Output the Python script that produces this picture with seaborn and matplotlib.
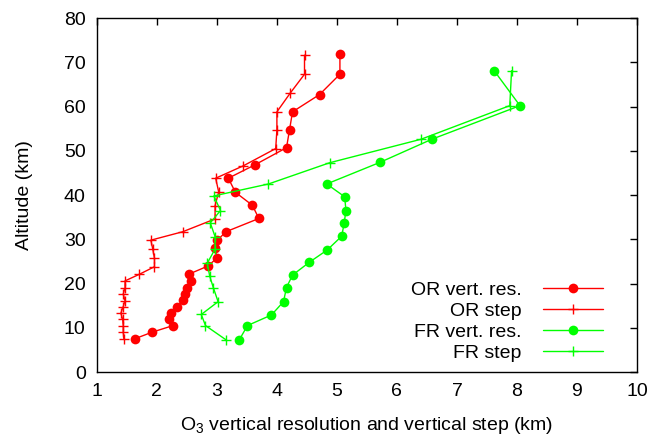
import matplotlib
matplotlib.use('Agg')
import matplotlib.pyplot as plt
import seaborn as sns

# OR vertical resolution (km) vs altitude (km)
or_res_x = [1.63, 1.92, 2.27, 2.21, 2.24, 2.34, 2.43, 2.47, 2.51, 2.57, 2.53, 2.86, 3.00,
            2.97, 3.01, 3.15, 3.70, 3.59, 3.31, 3.19, 3.63, 4.16, 4.21, 4.26, 4.71, 5.05, 5.05]
or_res_y = [7.5, 9.0, 10.5, 12.0, 13.4, 14.8, 16.2, 17.6, 19.0, 20.6, 22.1, 24.0, 25.8,
            28.0, 29.8, 31.7, 34.7, 37.7, 40.6, 43.8, 46.8, 50.7, 54.7, 58.8, 62.7, 67.3, 71.8]

# OR vertical step
or_step_x = [1.45, 1.44, 1.44, 1.43, 1.40, 1.44, 1.47, 1.44, 1.47, 1.47, 1.71, 1.96, 1.96,
             1.93, 1.90, 2.43, 2.97, 2.97, 3.03, 2.98, 3.44, 3.98, 4.00, 4.00, 4.22, 4.46, 4.46]
or_step_y = [7.5, 9.0, 10.5, 11.9, 13.3, 14.8, 16.1, 17.6, 19.1, 20.6, 22.1, 23.8, 25.7,
             27.9, 29.8, 31.7, 34.6, 37.6, 40.7, 43.8, 46.6, 50.5, 54.7, 58.8, 63.0, 67.3, 71.6]

# FR vertical resolution
fr_res_x = [3.37, 3.51, 3.91, 4.11, 4.16, 4.26, 4.54, 4.84, 5.08, 5.12, 5.15, 5.13, 4.83,
            5.72, 6.58, 8.05, 7.62]
fr_res_y = [7.2, 10.5, 12.9, 15.9, 19.1, 21.9, 24.8, 27.6, 30.7, 33.6, 36.5, 39.6, 42.5,
            47.4, 52.6, 60.2, 68.1]

# FR vertical step
fr_step_x = [3.16, 2.81, 2.74, 3.02, 2.94, 2.88, 2.84, 2.97, 2.97, 2.89, 3.06, 2.95, 3.86,
             4.88, 6.40, 7.88, 7.91]
fr_step_y = [7.2, 10.5, 13.0, 15.9, 19.1, 21.7, 24.6, 27.8, 30.6, 33.7, 36.5, 39.8, 42.5,
             47.3, 52.6, 60.2, 68.1]

sns.set_style('white')
plt.rcParams['font.family'] = ['Liberation Sans', 'DejaVu Sans']
plt.rcParams['mathtext.default'] = 'regular'
plt.rcParams['text.color'] = 'black'
plt.rcParams['axes.labelcolor'] = 'black'

fig = plt.figure(figsize=(6.5, 4.4), dpi=100)
ax = fig.add_axes([0.149, 0.1545, 0.831, 0.8045])

red = '#ff0000'
green = '#00ff00'

sns.lineplot(x=or_res_x, y=or_res_y, sort=False, estimator=None, color=red, lw=1,
             marker='o', markersize=7, markeredgewidth=0, markeredgecolor=red,
             label='OR vert. res.', ax=ax)
sns.lineplot(x=or_step_x, y=or_step_y, sort=False, estimator=None, color=red, lw=1,
             marker='+', markersize=7, markeredgewidth=1, markeredgecolor=red,
             label='OR step', ax=ax)
sns.lineplot(x=fr_res_x, y=fr_res_y, sort=False, estimator=None, color=green, lw=1,
             marker='o', markersize=7, markeredgewidth=0, markeredgecolor=green,
             label='FR vert. res.', ax=ax)
sns.lineplot(x=fr_step_x, y=fr_step_y, sort=False, estimator=None, color=green, lw=1,
             marker='+', markersize=7, markeredgewidth=1, markeredgecolor=green,
             label='FR step', ax=ax)

ax.set_xlim(1, 10)
ax.set_ylim(0, 80)
ax.set_xticks(range(1, 11))
ax.set_yticks(range(0, 81, 10))
ax.tick_params(direction='in', length=5, width=1, top=True, right=True,
               labelsize=14, colors='black', pad=8)
for s in ax.spines.values():
    s.set_color('black')
    s.set_linewidth(1)

ax.set_xlabel('O$_3$ vertical resolution and vertical step (km)', fontsize=14, labelpad=11)
ax.set_ylabel('Altitude (km)', fontsize=14, labelpad=22)

ax.legend(loc='lower right', bbox_to_anchor=(0.97, -0.02), frameon=False, markerfirst=False,
          numpoints=1, handlelength=3.1, fontsize=14, labelspacing=0.17, handletextpad=1.1)

fig.savefig('out.png', dpi=100)
